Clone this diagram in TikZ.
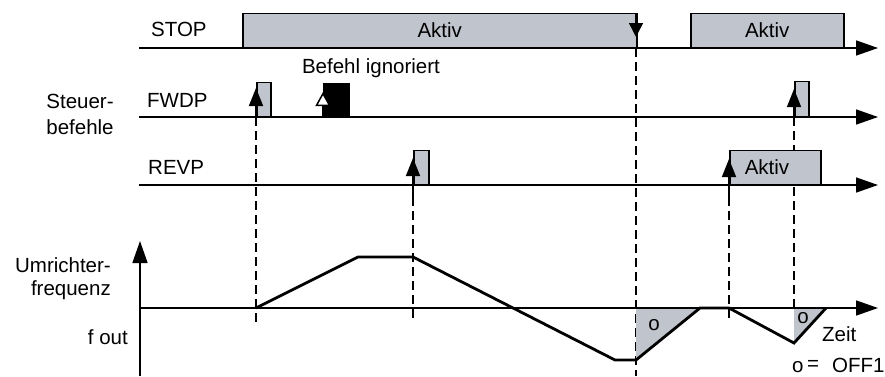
\documentclass[tikz,border=0pt]{standalone}
\usepackage{fontspec}
\setmainfont{Liberation Sans}
\usepackage{tikz}
\usetikzlibrary{positioning, arrows.meta}
\definecolor{SigGray}{RGB}{192,196,204}

\begin{document}
\begin{tikzpicture}[x=1pt, y=-1pt,
          lbl/.style={inner sep=0pt, font=\fontsize{20.5}{24}\selectfont},
          pulse/.style={draw=black, line width=1.5pt, fill=SigGray},
          axis/.style={-{Triangle[length=22pt, width=15pt]}, line width=1.6pt},
          trig/.style={-{Triangle[length=18pt, width=14pt]}, line width=1.6pt},
          vdash/.style={line width=1.5pt, dash pattern=on 9pt off 5pt},
          curve/.style={line width=2.8pt, line join=miter}
        ]
        \useasboundingbox (0,0) rectangle (885,376);

        % Time axes
        \coordinate (stopA) at (139, 48);  \coordinate (stopB) at (878, 48);
        \coordinate (fwdA)  at (139, 117); \coordinate (fwdB)  at (878, 117);
        \coordinate (revA)  at (139, 185); \coordinate (revB)  at (878, 185);
        \coordinate (freqA) at (140, 308); \coordinate (freqB) at (878, 308);
        \coordinate (vA)    at (140, 376); \coordinate (vB)    at (140, 241);

        % Dashed guides
        \draw[vdash] (256, 117) -- (256, 322);
        \draw[vdash] (413, 197) -- (413, 322);
        \draw[vdash] (636, 48)  -- (636, 376);
        \draw[vdash] (729, 197) -- (729, 322);
        \draw[vdash] (794, 117) -- (794, 308);

        % STOP
        \node[pulse, minimum width=394pt, minimum height=34pt, inner sep=0pt,
              anchor=south west, lbl] (stop1) at (242, 48) {};
        \node[lbl] at (stop1.center) {Aktiv};
        \node[pulse, minimum width=153pt, minimum height=34pt, inner sep=0pt,
              anchor=south west] (stop2) at (690, 48) {};
        \node[lbl] at (stop2.center) {Aktiv};
        \draw[axis] (stopA) -- (stopB);
        \coordinate (stopT) at (636, 14);
        \coordinate (stopE) at (636, 37);
        \draw[-{Triangle[length=14pt, width=14pt]}, line width=1.5pt]
              (stopT) -- (stopE);

        % FWDP
        \node[pulse, minimum width=14pt, minimum height=34pt, inner sep=0pt,
              anchor=south west] (fw1) at (256, 117) {};
        \node[draw=black, fill=black, minimum width=26pt, minimum height=34pt,
              inner sep=0pt, anchor=south west] (fwx) at (323, 117) {};
        \node[pulse, minimum width=14pt, minimum height=35pt, inner sep=0pt,
              anchor=south west] (fw2) at (794, 117) {};
        \draw[axis] (fwdA) -- (fwdB);
        \draw[trig] (fw1.south west) -- (256, 88);
        \draw[trig] (fw2.south west) -- (794, 89);
        \draw[-{Triangle[length=14pt, width=15pt, fill=white]}, line width=1.5pt]
              (fwx.south west) -- (323, 92);

        % REVP
        \node[pulse, minimum width=15pt, minimum height=34pt, inner sep=0pt,
              anchor=south west] (rv1) at (413, 185) {};
        \node[pulse, minimum width=91pt, minimum height=34pt, inner sep=0pt,
              anchor=south west] (rv2) at (729, 185) {};
        \node[lbl] at (767, 167) {Aktiv};
        \draw[axis] (revA) -- (revB);
        \draw[trig] (413, 197) -- (413, 158);
        \draw[trig] (729, 197) -- (729, 159);

        % Frequency
        \fill[SigGray] (636, 308) -- (700, 308) -- (636, 360) -- cycle;
        \fill[SigGray] (794, 308) -- (826, 308) -- (794, 343) -- cycle;
        \draw[axis] (freqA) -- (freqB);
        \draw[axis] (vA) -- (vB);
        \draw[curve] (256, 308) -- (358, 257) -- (413, 257) -- (615, 360)
              -- (636, 360) -- (700, 308) -- (729, 308) -- (794, 343)
              -- (826, 308);
        \node[lbl] at (654, 325) {o};
        \node[lbl] at (803, 318) {o};

        % Labels
        \node[lbl, anchor=west] (stopL) at (151, 29)  {STOP};
        \node[lbl, anchor=west] (fwdL)  at (147, 100) {FWDP};
        \node[lbl, anchor=west] (revL)  at (148, 167) {REVP};
        \node[lbl] (ign) at (371, 68) {Befehl ignoriert};
        \node[lbl, align=center] (cmd) at (80, 114)
              {Steuer-\\[2pt]befehle};
        \node[lbl, align=right, anchor=east] (umr) at (111, 279)
              {Umrichter-\\[-1pt]frequenz};
        \node[lbl, anchor=east] (fout) at (128, 337) {f out};
        \node[lbl, anchor=west] (zeit) at (822, 334) {Zeit};
        \node[lbl, anchor=west] (oeq)  at (792, 367)
              {\raisebox{-2pt}{o}\,=};
        \node[lbl, anchor=west] (off)  at (832, 365) {OFF1};
      \end{tikzpicture}
\end{document}
